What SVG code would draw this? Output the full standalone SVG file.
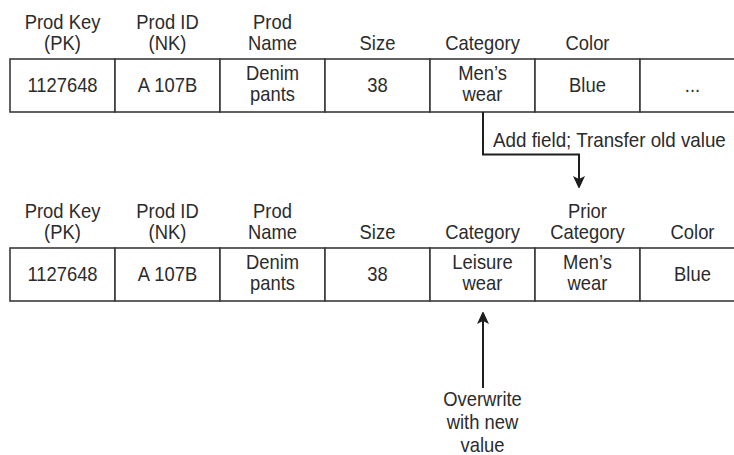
<svg xmlns="http://www.w3.org/2000/svg" width="734" height="455" viewBox="0 0 734 455">
<style>
text{font-family:"Liberation Sans",Arial,sans-serif;font-size:20px;fill:#2b2b2b;text-anchor:middle;transform:scaleX(0.92);transform-box:fill-box;transform-origin:center}
text.lbl{text-anchor:start;transform:scaleX(0.94);transform-origin:left center}
.cell{fill:#fff;stroke:#3a3a3a;stroke-width:1.6}
.conn{fill:none;stroke:#1e1e1e;stroke-width:2}
</style>
<defs>
<marker id="ah" viewBox="0 0 12 14" refX="11" refY="6" markerWidth="12" markerHeight="14" markerUnits="userSpaceOnUse" orient="auto">
<path d="M0,0 L13,6 L0,12 L3,6 Z" fill="#1e1e1e"/>
</marker>
</defs>
<g id="table-before">
<g id="t1-prodkey"><text x="62.5" y="29">Prod Key</text><text x="62.5" y="50">(PK)</text><rect class="cell" x="10" y="59" width="105" height="53"/><text x="62.5" y="92">1127648</text></g>
<g id="t1-prodid"><text x="167.5" y="29">Prod ID</text><text x="167.5" y="50">(NK)</text><rect class="cell" x="115" y="59" width="105" height="53"/><text x="167.5" y="92">A 107B</text></g>
<g id="t1-prodname"><text x="272.5" y="29">Prod</text><text x="272.5" y="50">Name</text><rect class="cell" x="220" y="59" width="105" height="53"/><text x="272.5" y="80">Denim</text><text x="272.5" y="101">pants</text></g>
<g id="t1-size"><text x="377.5" y="50">Size</text><rect class="cell" x="325" y="59" width="105" height="53"/><text x="377.5" y="92">38</text></g>
<g id="t1-category"><text x="482.5" y="50">Category</text><rect class="cell" x="430" y="59" width="105" height="53"/><text x="482.5" y="80">Men’s</text><text x="482.5" y="101">wear</text></g>
<g id="t1-color"><text x="587.5" y="50">Color</text><rect class="cell" x="535" y="59" width="105" height="53"/><text x="587.5" y="92">Blue</text></g>
<g id="t1-more"><rect class="cell" x="640" y="59" width="110" height="53"/><text x="692.5" y="92">...</text></g>
</g>
<g id="table-after">
<g id="t2-prodkey"><text x="62.5" y="218">Prod Key</text><text x="62.5" y="239">(PK)</text><rect class="cell" x="10" y="248" width="105" height="53"/><text x="62.5" y="281">1127648</text></g>
<g id="t2-prodid"><text x="167.5" y="218">Prod ID</text><text x="167.5" y="239">(NK)</text><rect class="cell" x="115" y="248" width="105" height="53"/><text x="167.5" y="281">A 107B</text></g>
<g id="t2-prodname"><text x="272.5" y="218">Prod</text><text x="272.5" y="239">Name</text><rect class="cell" x="220" y="248" width="105" height="53"/><text x="272.5" y="269">Denim</text><text x="272.5" y="290">pants</text></g>
<g id="t2-size"><text x="377.5" y="239">Size</text><rect class="cell" x="325" y="248" width="105" height="53"/><text x="377.5" y="281">38</text></g>
<g id="t2-category"><text x="482.5" y="239">Category</text><rect class="cell" x="430" y="248" width="105" height="53"/><text x="482.5" y="269">Leisure</text><text x="482.5" y="290">wear</text></g>
<g id="t2-prior"><text x="587.5" y="218">Prior</text><text x="587.5" y="239">Category</text><rect class="cell" x="535" y="248" width="105" height="53"/><text x="587.5" y="269">Men’s</text><text x="587.5" y="290">wear</text></g>
<g id="t2-color"><text x="692.5" y="239">Color</text><rect class="cell" x="640" y="248" width="110" height="53"/><text x="692.5" y="281">Blue</text></g>
</g>
<g id="note-overwrite"><text x="482.5" y="406">Overwrite</text><text x="482.5" y="429">with new</text><text x="482.5" y="452">value</text></g>
<g id="connectors">
<path class="conn" d="M483,112 V154.5 H579 V187" marker-end="url(#ah)"/>
<text class="lbl" x="493" y="147">Add field; Transfer old value</text>
<path class="conn" d="M483,388 V313" marker-end="url(#ah)"/>
</g>
</svg>
